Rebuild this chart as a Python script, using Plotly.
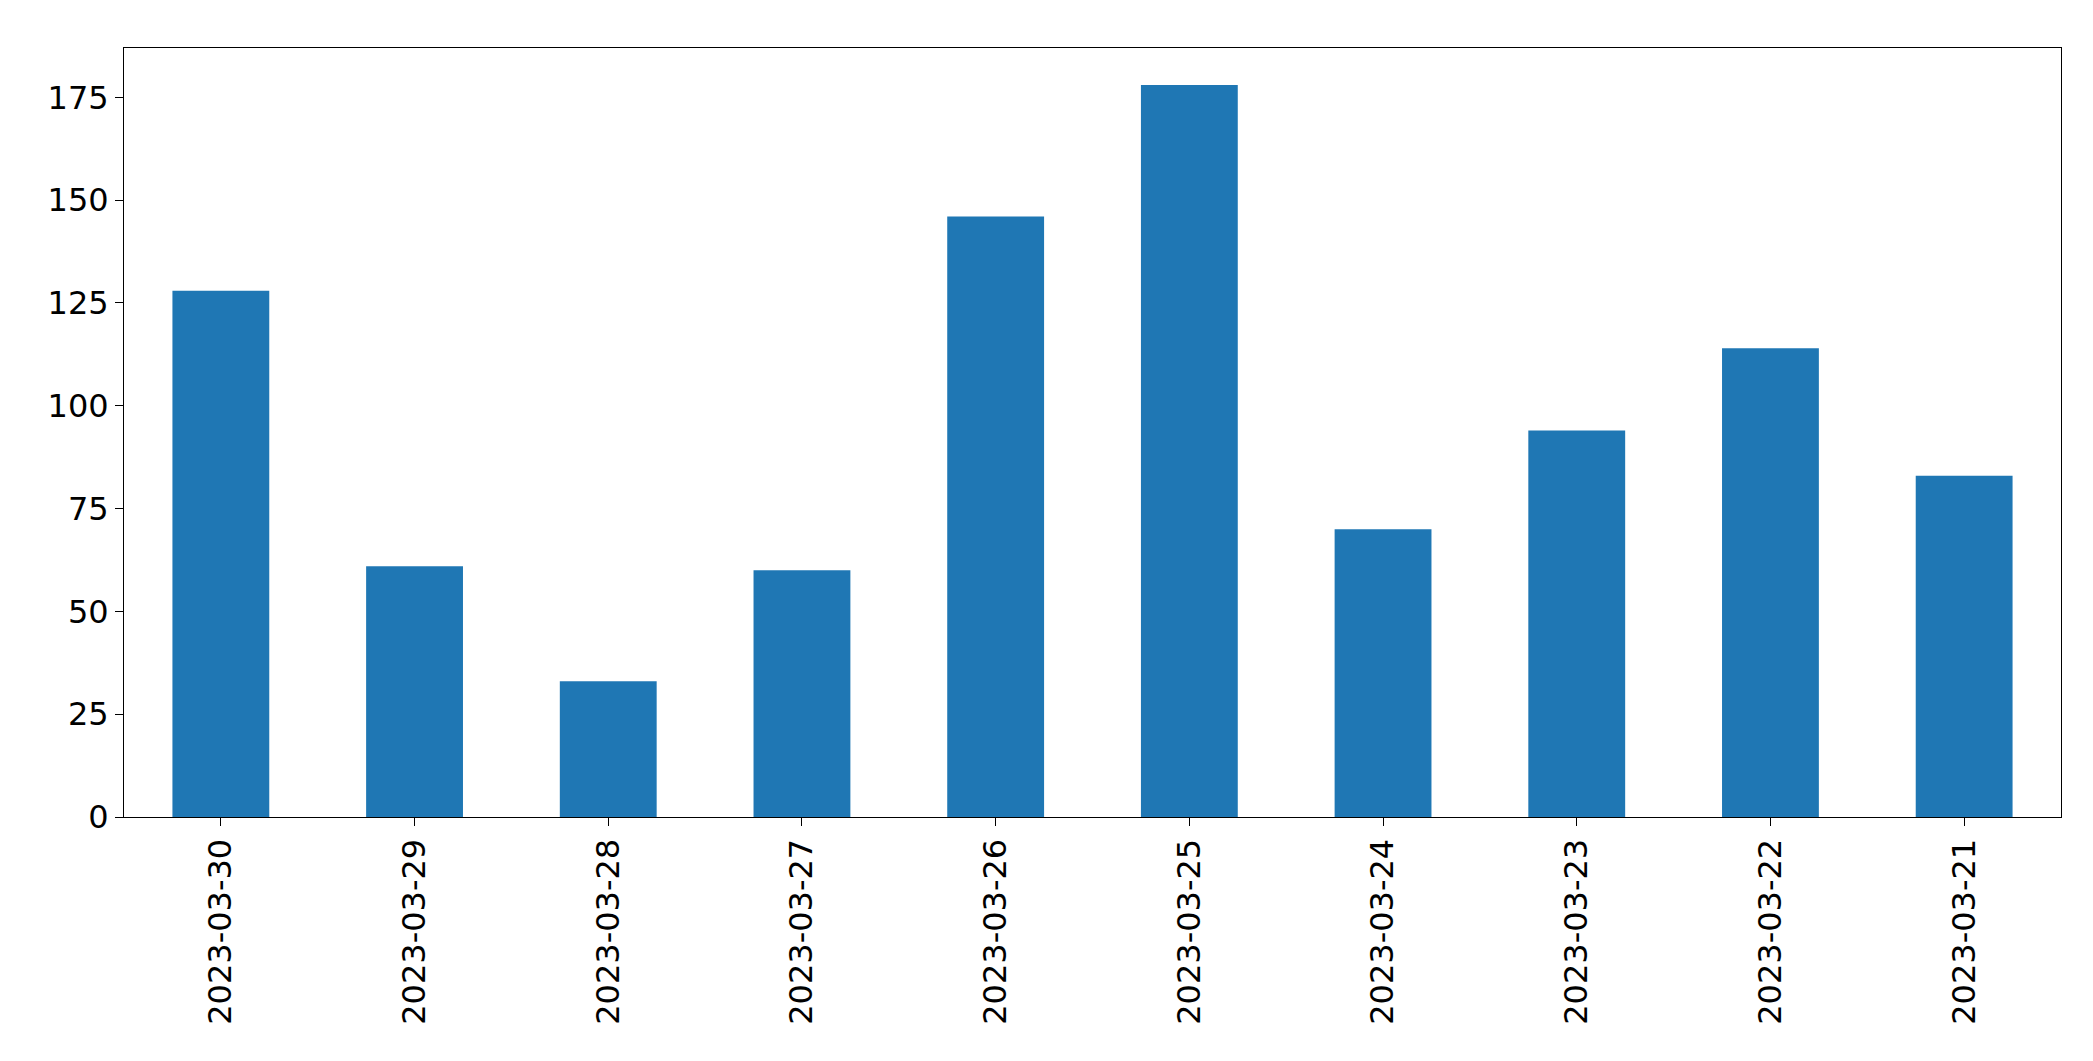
import plotly.graph_objects as go

dates = ["2023-03-30", "2023-03-29", "2023-03-28", "2023-03-27", "2023-03-26",
         "2023-03-25", "2023-03-24", "2023-03-23", "2023-03-22", "2023-03-21"]
counts = [128, 61, 33, 60, 146, 178, 70, 94, 114, 83]
y_ticks = [0, 25, 50, 75, 100, 125, 150, 175]

_AXIS_STYLE = dict(
    showgrid=False,
    showline=True,
    linecolor="black",
    linewidth=1,
    mirror=True,
    ticks="outside",
    ticklen=8,
    tickcolor="black",
    zeroline=False,
    tickfont=dict(family="DejaVu Sans", size=32, color="black"),
)

fig = go.Figure(go.Bar(
    x=dates,
    y=counts,
    width=0.5,
    marker=dict(color="#1f77b4", line=dict(width=0)),
))

fig.update_layout(
    width=2093,
    height=1061,
    margin=dict(l=116, r=40, t=40, b=252),
    plot_bgcolor="white",
    paper_bgcolor="white",
    showlegend=False,
)
fig.update_xaxes(type="category", tickangle=-90, range=[-0.5, 9.5], **_AXIS_STYLE)
fig.update_yaxes(range=[0, 187], tickvals=y_ticks, **_AXIS_STYLE)
fig.write_html("out.html")
